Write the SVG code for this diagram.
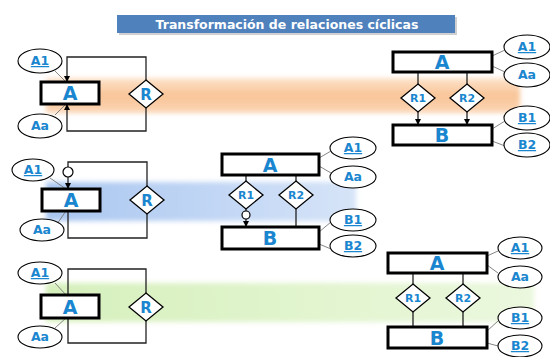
<svg xmlns="http://www.w3.org/2000/svg" width="550" height="357" viewBox="0 0 550 357">
<defs>
<style>
.ent{fill:#fff;stroke:#000;stroke-width:3}
.rel{fill:#fff;stroke:#000;stroke-width:1.3}
.att{fill:#fff;stroke:#000;stroke-width:1.1}
.ln{fill:none;stroke:#222;stroke-width:1.3}
.al{fill:none;stroke:#777;stroke-width:0.9}
.big{font-family:"DejaVu Sans",sans-serif;font-weight:bold;font-size:19px;fill:#1a86cf;text-anchor:middle}
.r{font-family:"DejaVu Sans",sans-serif;font-weight:bold;font-size:15px;fill:#1a86cf;text-anchor:middle}
.rn{font-family:"DejaVu Sans",sans-serif;font-weight:bold;font-size:11px;fill:#1a86cf;text-anchor:middle}
.at{font-family:"DejaVu Sans",sans-serif;font-weight:bold;font-size:12.5px;fill:#1a86cf;text-anchor:middle}
.u{text-decoration:underline}
.title{font-family:"DejaVu Sans",sans-serif;font-weight:bold;font-size:12.5px;fill:#fff;text-anchor:middle}
</style>
<marker id="arr" viewBox="0 0 10 10" refX="10" refY="5" markerWidth="6" markerHeight="6" orient="auto-start-reverse" markerUnits="userSpaceOnUse">
<path d="M0,0 L10,5 L0,10 Z" fill="#000"/>
</marker>
<linearGradient id="gOr" x1="0" y1="0" x2="0" y2="1">
<stop offset="0" stop-color="#fde3cc"/>
<stop offset="0.5" stop-color="#f8c496"/>
<stop offset="1" stop-color="#fbd6b6"/>
</linearGradient>
<linearGradient id="gBl" x1="0" y1="0" x2="1" y2="0">
<stop offset="0" stop-color="#a9c6f0"/>
<stop offset="1" stop-color="#d6e4f8"/>
</linearGradient>
<linearGradient id="gGr" x1="0" y1="0" x2="1" y2="0">
<stop offset="0" stop-color="#d6f0bc"/>
<stop offset="1" stop-color="#ebf8de"/>
</linearGradient>
<filter id="soft" x="-5%" y="-30%" width="110%" height="160%">
<feGaussianBlur stdDeviation="2.5"/>
</filter>
</defs>
<rect width="550" height="357" fill="#fff"/>

<g id="bands">
<rect x="46" y="78" width="474" height="35" fill="url(#gOr)" filter="url(#soft)"/>
<rect x="46" y="182" width="310" height="39" fill="url(#gBl)" filter="url(#soft)"/>
<rect x="46" y="283" width="488" height="39" fill="url(#gGr)" filter="url(#soft)"/>
</g>

<g id="title">
<rect x="119" y="17" width="338" height="18" fill="#d0d0d0"/>
<rect x="117" y="15" width="338" height="18" fill="#4f81bd"/>
<text class="title" x="287" y="29">Transformación de relaciones cíclicas</text>
</g>

<g id="connectors">
<!-- row1 left -->
<path class="ln" d="M67,82 V57 H146 V80" marker-start="url(#arr)"/>
<path class="ln" d="M67,104 V131 H146 V108" marker-start="url(#arr)"/>
<line class="al" x1="55" y1="71" x2="66" y2="82"/>
<line class="al" x1="55" y1="115" x2="66" y2="104"/>
<!-- row1 right -->
<line class="ln" x1="418" y1="72" x2="418" y2="84"/>
<line class="ln" x1="467" y1="72" x2="467" y2="84"/>
<line class="ln" x1="418" y1="112" x2="418" y2="125" marker-end="url(#arr)"/>
<line class="ln" x1="467" y1="112" x2="467" y2="125" marker-end="url(#arr)"/>
<line class="al" x1="492" y1="56" x2="505" y2="50"/>
<line class="al" x1="492" y1="66" x2="505" y2="72"/>
<line class="al" x1="492" y1="129" x2="505" y2="121"/>
<line class="al" x1="492" y1="141" x2="505" y2="146"/>
<!-- row2 left -->
<path class="ln" d="M68,167 V162 H147 V186"/>
<line class="ln" x1="68" y1="177" x2="68" y2="189" marker-end="url(#arr)"/>
<path class="ln" d="M68,211 V238 H147 V214"/>
<line class="al" x1="50" y1="178" x2="66" y2="189"/>
<line class="al" x1="57" y1="224" x2="66" y2="211"/>
<!-- row2 right -->
<line class="ln" x1="246" y1="175" x2="246" y2="181"/>
<line class="ln" x1="296" y1="175" x2="296" y2="181"/>
<line class="ln" x1="246" y1="209" x2="246" y2="211"/>
<line class="ln" x1="246" y1="219" x2="246" y2="227" marker-end="url(#arr)"/>
<line class="ln" x1="296" y1="209" x2="296" y2="227"/>
<line class="al" x1="319" y1="158" x2="331" y2="151"/>
<line class="al" x1="319" y1="166" x2="331" y2="173"/>
<line class="al" x1="319" y1="232" x2="331" y2="222"/>
<line class="al" x1="319" y1="244" x2="331" y2="249"/>
<!-- row3 left -->
<path class="ln" d="M68,295 V269 H146 V293"/>
<path class="ln" d="M68,318 V343 H146 V321"/>
<line class="al" x1="55" y1="283" x2="66" y2="295"/>
<line class="al" x1="55" y1="328" x2="66" y2="318"/>
<!-- row3 right -->
<line class="ln" x1="413" y1="273" x2="413" y2="284"/>
<line class="ln" x1="463" y1="273" x2="463" y2="284"/>
<line class="ln" x1="413" y1="312" x2="413" y2="327"/>
<line class="ln" x1="463" y1="312" x2="463" y2="327"/>
<line class="al" x1="487" y1="256" x2="498" y2="251"/>
<line class="al" x1="487" y1="265" x2="498" y2="273"/>
<line class="al" x1="487" y1="331" x2="498" y2="321"/>
<line class="al" x1="487" y1="343" x2="498" y2="346"/>
</g>

<g id="r1-left">
<g id="r1l-A"><rect class="ent" x="41" y="82" width="58" height="22"/><text class="big" x="70" y="100">A</text></g>
<g id="r1l-R"><path class="rel" d="M146,80 L163,94 L146,108 L129,94 Z"/><text class="r" x="146" y="100">R</text></g>
<g id="r1l-A1"><ellipse class="att" cx="40" cy="61" rx="22" ry="12"/><text class="at u" x="40" y="65">A1</text></g>
<g id="r1l-Aa"><ellipse class="att" cx="40" cy="126" rx="22" ry="12"/><text class="at" x="40" y="130">Aa</text></g>
</g>

<g id="r1-right">
<g id="r1r-A"><rect class="ent" x="393" y="52" width="99" height="20"/><text class="big" x="442" y="69">A</text></g>
<g id="r1r-B"><rect class="ent" x="393" y="125" width="99" height="20"/><text class="big" x="442" y="142">B</text></g>
<g id="r1r-R1"><path class="rel" d="M418,84 L435,98 L418,112 L401,98 Z"/><text class="rn" x="418" y="102">R1</text></g>
<g id="r1r-R2"><path class="rel" d="M467,84 L484,98 L467,112 L450,98 Z"/><text class="rn" x="467" y="102">R2</text></g>
<g id="r1r-A1"><ellipse class="att" cx="527" cy="47" rx="23" ry="12"/><text class="at u" x="527" y="51">A1</text></g>
<g id="r1r-Aa"><ellipse class="att" cx="527" cy="75" rx="23" ry="12"/><text class="at" x="527" y="79">Aa</text></g>
<g id="r1r-B1"><ellipse class="att" cx="527" cy="118" rx="23" ry="12"/><text class="at u" x="527" y="122">B1</text></g>
<g id="r1r-B2"><ellipse class="att" cx="527" cy="145" rx="23" ry="12"/><text class="at u" x="527" y="149">B2</text></g>
</g>

<g id="r2-left">
<g id="r2l-A"><rect class="ent" x="42" y="189" width="58" height="22"/><text class="big" x="71" y="207">A</text></g>
<g id="r2l-R"><path class="rel" d="M147,186 L164,200 L147,214 L130,200 Z"/><text class="r" x="147" y="206">R</text></g>
<g id="r2l-c"><circle cx="68" cy="172" r="5" fill="#fff" stroke="#000" stroke-width="1.2"/></g>
<g id="r2l-A1"><ellipse class="att" cx="33" cy="170" rx="21" ry="11"/><text class="at u" x="33" y="174">A1</text></g>
<g id="r2l-Aa"><ellipse class="att" cx="42" cy="230" rx="22" ry="11"/><text class="at" x="42" y="234">Aa</text></g>
</g>

<g id="r2-right">
<g id="r2r-A"><rect class="ent" x="222" y="154" width="97" height="21"/><text class="big" x="270" y="172">A</text></g>
<g id="r2r-B"><rect class="ent" x="222" y="227" width="97" height="22"/><text class="big" x="270" y="245">B</text></g>
<g id="r2r-R1"><path class="rel" d="M246,181 L263,195 L246,209 L229,195 Z"/><text class="rn" x="246" y="199">R1</text></g>
<g id="r2r-R2"><path class="rel" d="M296,181 L313,195 L296,209 L279,195 Z"/><text class="rn" x="296" y="199">R2</text></g>
<g id="r2r-c"><circle cx="246" cy="215" r="4" fill="#fff" stroke="#000" stroke-width="1.2"/></g>
<g id="r2r-A1"><ellipse class="att" cx="353" cy="148" rx="23" ry="11"/><text class="at u" x="353" y="152">A1</text></g>
<g id="r2r-Aa"><ellipse class="att" cx="353" cy="177" rx="23" ry="11"/><text class="at" x="353" y="181">Aa</text></g>
<g id="r2r-B1"><ellipse class="att" cx="353" cy="220" rx="23" ry="11"/><text class="at u" x="353" y="224">B1</text></g>
<g id="r2r-B2"><ellipse class="att" cx="353" cy="246" rx="23" ry="11"/><text class="at u" x="353" y="250">B2</text></g>
</g>

<g id="r3-left">
<g id="r3l-A"><rect class="ent" x="41" y="295" width="58" height="23"/><text class="big" x="70" y="314">A</text></g>
<g id="r3l-R"><path class="rel" d="M146,293 L163,307 L146,321 L129,307 Z"/><text class="r" x="146" y="313">R</text></g>
<g id="r3l-A1"><ellipse class="att" cx="40" cy="273" rx="22" ry="11"/><text class="at u" x="40" y="277">A1</text></g>
<g id="r3l-Aa"><ellipse class="att" cx="40" cy="337" rx="22" ry="11"/><text class="at" x="40" y="341">Aa</text></g>
</g>

<g id="r3-right">
<g id="r3r-A"><rect class="ent" x="388" y="253" width="99" height="20"/><text class="big" x="437" y="270">A</text></g>
<g id="r3r-B"><rect class="ent" x="388" y="327" width="99" height="21"/><text class="big" x="437" y="345">B</text></g>
<g id="r3r-R1"><path class="rel" d="M413,284 L430,298 L413,312 L396,298 Z"/><text class="rn" x="413" y="302">R1</text></g>
<g id="r3r-R2"><path class="rel" d="M463,284 L480,298 L463,312 L446,298 Z"/><text class="rn" x="463" y="302">R2</text></g>
<g id="r3r-A1"><ellipse class="att" cx="520" cy="248" rx="22" ry="11"/><text class="at u" x="520" y="252">A1</text></g>
<g id="r3r-Aa"><ellipse class="att" cx="520" cy="277" rx="22" ry="11"/><text class="at" x="520" y="281">Aa</text></g>
<g id="r3r-B1"><ellipse class="att" cx="520" cy="318" rx="22" ry="11"/><text class="at u" x="520" y="322">B1</text></g>
<g id="r3r-B2"><ellipse class="att" cx="520" cy="346" rx="22" ry="11"/><text class="at u" x="520" y="350">B2</text></g>
</g>
</svg>
